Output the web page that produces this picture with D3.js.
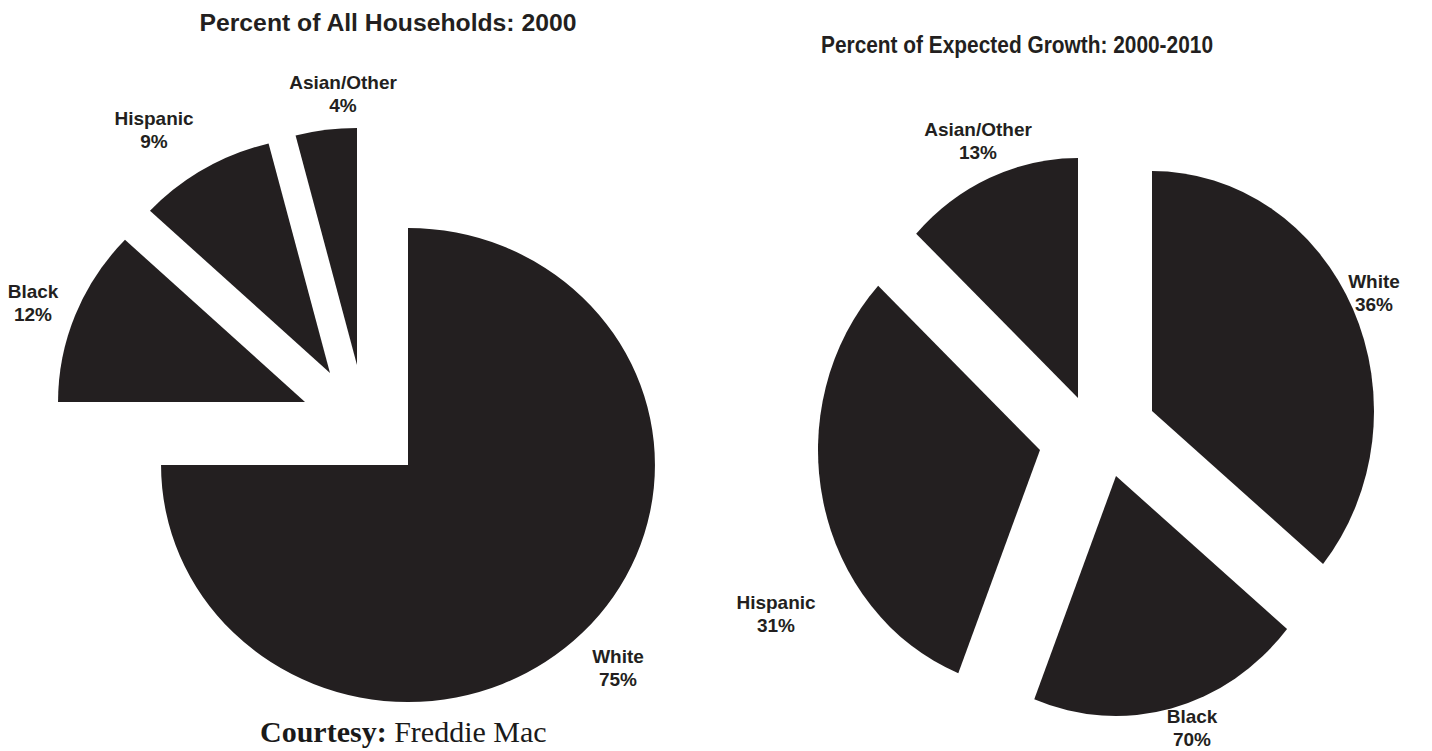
<!DOCTYPE html>
<html>
<head>
<meta charset="utf-8">
<script src="https://cdn.jsdelivr.net/npm/d3@7"></script>
<style>
  body { margin: 0; background: #ffffff; }
  svg { display: block; }
</style>
</head>
<body>
<svg id="chart" width="1432" height="751"></svg>
<script>
// Share of all households in 2000 (percent)
const householdGroups = ["White", "Black", "Hispanic", "Asian/Other"];
const householdShares = [75, 12, 9, 4];

// Share of expected household growth, 2000-2010 (percent)
const growthGroups = ["White", "Black", "Hispanic", "Asian/Other"];
const growthShares = [36, 20, 31, 13];
// Percentages as printed beside each growth slice
const growthPrinted = ["36%", "70%", "31%", "13%"];

const titles = ["Percent of All Households: 2000", "Percent of Expected Growth: 2000-2010"];

// ---- layout -------------------------------------------------------------
const INK = "#231f20";
const LABEL_FONT = "'Liberation Sans', Arial, sans-serif";

const panels = [
  {
    groups: householdGroups,
    values: householdShares,
    printed: householdShares.map(v => v + "%"),
    center: [408, 465],
    radius: 237,
    stretchX: 1.042,
    // offset of each slice's tip from the pie centre
    explode: [[0, 0], [-103, -63], [-78, -92], [-51, -100]],
    // label anchor (x centre, first baseline)
    labels: [[618, 663], [33, 298], [154, 125], [343, 89]],
    title: titles[0],
    titlePos: [388, 31],
    titleWidth: 377
  },
  {
    groups: growthGroups,
    values: growthShares,
    printed: growthPrinted,
    center: [1100, 420],
    radius: 240,
    stretchX: 0.925,
    explode: [[52, -9], [16, 56], [-60, 30], [-22, -22]],
    labels: [[1374, 288], [1192, 723], [776, 609], [978, 136]],
    title: titles[1],
    titlePos: [1017, 53],
    titleWidth: 392
  }
];

const svg = d3.select("#chart");

const pie = d3.pie()
  .sort(null)
  .value(d => d.value)
  .startAngle(0)
  .endAngle(2 * Math.PI);

panels.forEach(p => {
  const rows = p.groups.map((g, i) => ({ group: g, value: p.values[i], printed: p.printed[i], i }));
  const arcs = pie(rows);
  const arc = d3.arc().innerRadius(0).outerRadius(p.radius);

  const g = svg.append("g");

  g.selectAll("path.slice")
    .data(arcs)
    .join("path")
    .attr("class", "slice")
    .attr("fill", INK)
    .attr("transform", d => {
      const [dx, dy] = p.explode[d.data.i];
      return `translate(${p.center[0] + dx},${p.center[1] + dy}) scale(${p.stretchX},1)`;
    })
    .attr("d", arc);

  const lab = g.selectAll("text.slice-label")
    .data(arcs)
    .join("text")
    .attr("class", "slice-label")
    .attr("text-anchor", "middle")
    .attr("fill", INK)
    .attr("font-family", LABEL_FONT)
    .attr("font-weight", "bold")
    .attr("font-size", 19)
    .attr("transform", d => `translate(${p.labels[d.data.i][0]},${p.labels[d.data.i][1]})`);

  lab.append("tspan").attr("x", 0).attr("y", 0).text(d => d.data.group);
  lab.append("tspan").attr("x", 0).attr("y", 23).text(d => d.data.printed);

  svg.append("text")
    .attr("x", p.titlePos[0])
    .attr("y", p.titlePos[1])
    .attr("text-anchor", "middle")
    .attr("fill", INK)
    .attr("font-family", LABEL_FONT)
    .attr("font-weight", "bold")
    .attr("font-size", 23)
    .attr("textLength", p.titleWidth)
    .attr("lengthAdjust", "spacingAndGlyphs")
    .text(p.title);
});

// source credit
const credit = svg.append("text")
  .attr("x", 260)
  .attr("y", 742)
  .attr("fill", "#1a1a1a")
  .attr("font-family", "'Liberation Serif', 'Times New Roman', serif")
  .attr("font-size", 30);
credit.append("tspan").attr("font-weight", "bold").text("Courtesy:");
credit.append("tspan").text(" Freddie Mac");
</script>
</body>
</html>
